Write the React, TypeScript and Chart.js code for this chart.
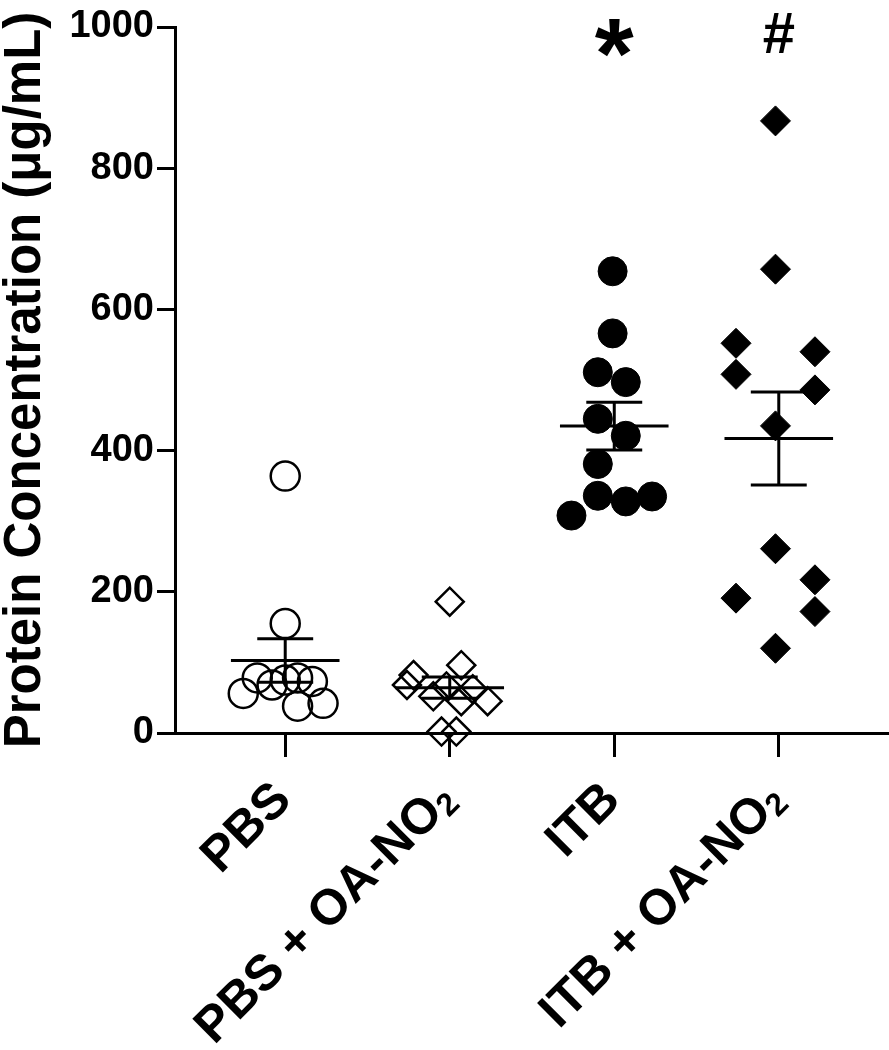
import React, { useEffect, useRef } from 'react';
import { Chart, registerables } from 'chart.js';

Chart.register(...registerables);

// ---- data ----
const categories = ['PBS', 'PBS + OA-NO₂', 'ITB', 'ITB + OA-NO₂'];
const yTickValues = [0, 200, 400, 600, 800, 1000];
const yAxisTitle = 'Protein Concentration (μg/mL)';

const pbsValues = [364, 155, 56, 78, 68, 75, 78, 73, 38, 42];
const pbsJitter = [0, 0, -0.255, -0.17, -0.08, 0, 0.075, 0.165, 0.075, 0.23];

const pbsOaValues = [186, 96, 82, 68, 66, 62, 52, 45, 45, 2, 2];
const pbsOaJitter = [0, 0.07, -0.22, -0.26, -0.02, 0.14, -0.1, 0.07, 0.23, -0.05, 0.04];

const itbValues = [654, 566, 511, 497, 445, 421, 381, 336, 328, 335, 308];
const itbJitter = [-0.01, -0.01, -0.1, 0.07, -0.1, 0.07, -0.1, -0.1, 0.07, 0.23, -0.26];

const itbOaValues = [867, 657, 552, 508, 540, 486, 435, 261, 191, 217, 172, 120];
const itbOaJitter = [-0.02, -0.02, -0.26, -0.26, 0.22, 0.22, -0.02, -0.02, -0.26, 0.22, 0.22, -0.02];

const annotationSymbols = ['*', '#'];
const annotationGroups = [3, 4];
const annotationValues = [984, 991];

const groupValues = [pbsValues, pbsOaValues, itbValues, itbOaValues];
const groupJitter = [pbsJitter, pbsOaJitter, itbJitter, itbOaJitter];

const FONT = "'Liberation Sans', Arial, Helvetica, sans-serif";
const LABEL_SIZE = 50;

function meanSem(vals: number[]) {
  const n = vals.length;
  const m = vals.reduce((a, b) => a + b, 0) / n;
  const sd = Math.sqrt(vals.reduce((a, b) => a + (b - m) * (b - m), 0) / (n - 1));
  return { m, sem: sd / Math.sqrt(n) };
}

const errorBarPlugin = {
  id: 'errorBars',
  afterDatasetsDraw(chart: any) {
    const { ctx, scales } = chart;
    const xs = scales.x;
    const ys = scales.y;
    ctx.save();
    ctx.strokeStyle = '#000';
    ctx.lineWidth = 3;
    ctx.lineCap = 'butt';
    groupValues.forEach((vals, i) => {
      const c = i + 1;
      const { m, sem } = meanSem(vals);
      const ym = ys.getPixelForValue(m);
      const yt = ys.getPixelForValue(m + sem);
      const yb = ys.getPixelForValue(m - sem);
      ctx.beginPath();
      ctx.moveTo(xs.getPixelForValue(c - 0.33), ym);
      ctx.lineTo(xs.getPixelForValue(c + 0.33), ym);
      ctx.moveTo(xs.getPixelForValue(c - 0.17), yt);
      ctx.lineTo(xs.getPixelForValue(c + 0.17), yt);
      ctx.moveTo(xs.getPixelForValue(c - 0.17), yb);
      ctx.lineTo(xs.getPixelForValue(c + 0.17), yb);
      ctx.moveTo(xs.getPixelForValue(c), yt);
      ctx.lineTo(xs.getPixelForValue(c), yb);
      ctx.stroke();
    });
    // significance marks
    ctx.fillStyle = '#000';
    ctx.textAlign = 'center';
    ctx.textBaseline = 'alphabetic';
    annotationSymbols.forEach((s, i) => {
      const size = s === '*' ? 100 : 58;
      ctx.font = `bold ${size}px ${FONT}`;
      const mt = ctx.measureText(s);
      const cx = xs.getPixelForValue(annotationGroups[i]);
      const cy = ys.getPixelForValue(annotationValues[i]);
      const base = cy + (mt.actualBoundingBoxAscent - mt.actualBoundingBoxDescent) / 2;
      ctx.fillText(s, cx, base);
    });

    // rotated category labels with a real subscript "2"
    const axisY = ys.getPixelForValue(0);
    const mainFont = `bold ${LABEL_SIZE}px ${FONT}`;
    const subSize = Math.round(LABEL_SIZE * 0.64);
    const subFont = `bold ${subSize}px ${FONT}`;
    ctx.textAlign = 'left';
    ctx.textBaseline = 'alphabetic';
    categories.forEach((label, i) => {
      const tx = xs.getPixelForValue(i + 1);
      const parts = label.split('₂');
      ctx.font = mainFont;
      const w1 = ctx.measureText(parts[0]).width;
      let w2 = 0;
      const hasSub = parts.length > 1;
      if (hasSub) {
        ctx.font = subFont;
        w2 = ctx.measureText('2').width;
      }
      const total = w1 + w2;
      ctx.save();
      ctx.translate(tx + 8, axisY + 69);
      ctx.rotate(-Math.PI / 4);
      ctx.font = mainFont;
      ctx.fillText(parts[0], -total, 0);
      if (hasSub) {
        ctx.font = subFont;
        ctx.fillText('2', -total + w1, LABEL_SIZE * 0.1);
      }
      ctx.restore();
    });
    ctx.restore();
  },
};

export default function App() {
  const ref = useRef<HTMLCanvasElement | null>(null);

  useEffect(() => {
    if (!ref.current) return;
    const styles = [
      { pointStyle: 'circle', radius: 14.5, bg: 'rgba(0,0,0,0)', bw: 2.5 },
      { pointStyle: 'rectRot', radius: 14, bg: 'rgba(0,0,0,0)', bw: 2.5 },
      { pointStyle: 'circle', radius: 14.5, bg: '#000', bw: 1 },
      { pointStyle: 'rectRot', radius: 15, bg: '#000', bw: 1 },
    ];
    const datasets = groupValues.map((vals, i) => ({
      label: categories[i],
      data: vals.map((v, j) => ({ x: i + 1 + groupJitter[i][j], y: v })),
      pointStyle: styles[i].pointStyle,
      pointRadius: styles[i].radius,
      pointHoverRadius: styles[i].radius,
      pointBackgroundColor: styles[i].bg,
      pointBorderColor: '#000',
      pointBorderWidth: styles[i].bw,
      showLine: false,
      clip: false as any,
    }));

    const chart = new Chart(ref.current, {
      type: 'scatter',
      data: { datasets },
      plugins: [errorBarPlugin],
      options: {
        responsive: false,
        animation: false,
        layout: { autoPadding: false, padding: { top: 27, left: 0, right: 0, bottom: 0 } },
        plugins: { legend: { display: false }, tooltip: { enabled: false } },
        scales: {
          x: {
            type: 'linear',
            min: 0.33,
            max: 4.67,
            afterBuildTicks: (s: any) => {
              s.ticks = categories.map((_, i) => ({ value: i + 1 }));
            },
            afterFit: (s: any) => {
              s.height = 317;
              s.paddingLeft = 0;
              s.paddingRight = 0;
            },
            ticks: {
              display: false,
              autoSkip: false,
            },
            grid: {
              drawOnChartArea: false,
              drawTicks: true,
              tickLength: 24,
              tickWidth: 3,
              color: '#000',
            },
            border: { display: true, color: '#000', width: 3 },
          },
          y: {
            type: 'linear',
            min: 0,
            max: 1000,
            afterBuildTicks: (s: any) => {
              s.ticks = yTickValues.map((v) => ({ value: v }));
            },
            afterFit: (s: any) => {
              s.width = 175;
            },
            ticks: {
              padding: 3,
              color: '#000',
              font: { family: FONT, size: 38, weight: 'bold' },
              callback: (v: any) => String(v),
            },
            grid: {
              drawOnChartArea: false,
              drawTicks: true,
              tickLength: 18,
              tickWidth: 3,
              color: '#000',
            },
            border: { display: true, color: '#000', width: 3 },
            title: {
              display: true,
              text: yAxisTitle,
              color: '#000',
              padding: 0,
              font: { family: FONT, size: 51, weight: 'bold', lineHeight: 1 },
            },
          },
        },
      },
    });
    return () => chart.destroy();
  }, []);

  return (
    <div style={{ position: 'absolute', left: 0, top: 0, width: 889, height: 1050, background: '#fff' }}>
      <canvas ref={ref} width={889} height={1050} />
    </div>
  );
}
